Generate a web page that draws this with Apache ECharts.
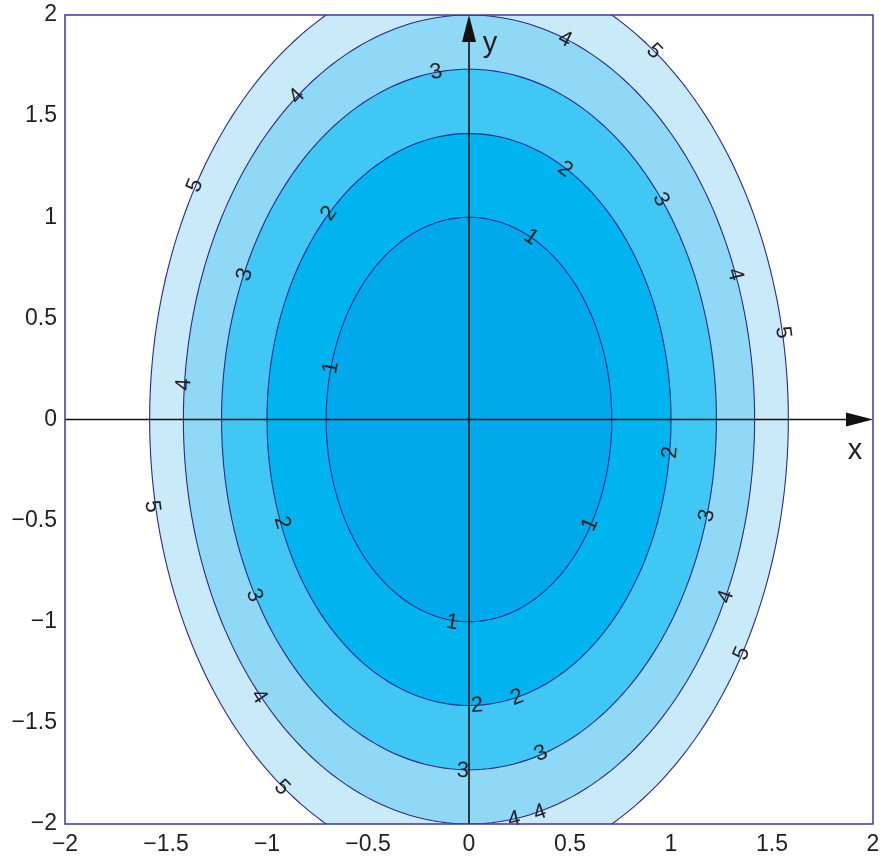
<!DOCTYPE html>
<html>
<head>
<meta charset="utf-8">
<script src="https://cdn.jsdelivr.net/npm/echarts@6/dist/echarts.min.js"></script>
<style>html,body{margin:0;padding:0;background:#fff}#c{width:888px;height:859px}</style>
</head>
<body>
<div id="c"></div>
<script>
// contour levels of f(x,y) and the semi-axes of each level ellipse
const levels = [1, 2, 3, 4, 5];
const semiX = [0.707, 1.0, 1.225, 1.414, 1.581];
const semiY = [1.0, 1.414, 1.732, 2.0, 2.236];
// contour label placements (data coordinates)
const labelLevel = [1,1,1,1, 2,2,2,2,2,2, 3,3,3,3,3,3,3, 4,4,4,4,4,4,4,4, 5,5,5,5,5,5];
const labelX = [0.307,-0.683,0.599,-0.084,
  0.475,-0.693,0.996,-0.926,0.040,0.238,
  -0.163,0.950,-1.109,1.178,-1.064,0.356,-0.030,
  -0.851,0.475,1.317,-1.411,1.272,-1.040,0.223,0.351,
  -1.356,0.916,1.554,-1.569,1.351,-0.926];
const labelY = [0.901,0.257,-0.519,-1.004,
  1.236,1.019,-0.163,-0.509,-1.414,-1.375,
  1.717,1.088,0.717,-0.475,-0.870,-1.652,-1.737,
  1.598,1.879,0.717,0.173,-0.876,-1.370,-1.978,-1.944,
  1.157,1.820,0.430,-0.430,-1.157,-1.820];
// axis ticks
const xTicks = [-2, -1.5, -1, -0.5, 0, 0.5, 1, 1.5, 2];
const yTicks = [-2, -1.5, -1, -0.5, 0, 0.5, 1, 1.5, 2];

const fills = ['#00a8ec', '#00b5ef', '#40c7f3', '#8fd8f6', '#c9eaf9'];
const lineCol = '#2a2a8c';
const FONT = '"Liberation Sans", Arial, sans-serif';

function fmt(v){ return String(v).replace('-', '\u2212'); }

const chart = echarts.init(document.getElementById('c'));

function clipRect(params){
  const cs = params.coordSys;
  return {type:'rect', shape:{x:cs.x, y:cs.y, width:cs.width, height:cs.height}};
}

const fillData = levels.map((l,i)=>({value:[0,0,i]})).reverse();

const option = {
  animation: false,
  grid: {left: 65, right: 15, top: 15, bottom: 35},
  xAxis: {
    type: 'value', min: xTicks[0], max: xTicks[xTicks.length-1], interval: 0.5,
    axisLine: {show: false}, axisTick: {show: false}, splitLine: {show: false},
    axisLabel: {formatter: fmt, fontSize: 23, fontFamily: FONT, color: '#231f20', margin: 9}
  },
  yAxis: {
    type: 'value', min: yTicks[0], max: yTicks[yTicks.length-1], interval: 0.5,
    axisLine: {show: false}, axisTick: {show: false}, splitLine: {show: false},
    axisLabel: {formatter: fmt, fontSize: 23, fontFamily: FONT, color: '#231f20', margin: 8}
  },
  series: [
    {
      type: 'custom', z: 1,
      encode: {x: 0, y: 1},
      data: fillData,
      renderItem: function(params, api){
        const i = api.value(2);
        const pts = [];
        const N = 240;
        for (let k = 0; k < N; k++){
          const t = 2*Math.PI*k/N;
          pts.push(api.coord([semiX[i]*Math.cos(t), semiY[i]*Math.sin(t)]));
        }
        return {
          type: 'polygon', shape: {points: pts},
          style: {fill: fills[i], stroke: lineCol, lineWidth: 1.1},
          clipPath: clipRect(params)
        };
      }
    },
    {
      type: 'custom', z: 5,
      encode: {x: 0, y: 1},
      data: [[0,0]],
      renderItem: function(params, api){
        const L = api.coord([xTicks[0], 0]);
        const R = api.coord([xTicks[xTicks.length-1], 0]);
        const B = api.coord([0, yTicks[0]]);
        const T = api.coord([0, yTicks[yTicks.length-1]]);
        const al = 27, aw = 7;
        return {type: 'group', children: [
          {type:'line', shape:{x1:L[0], y1:L[1], x2:R[0]-al+2, y2:R[1]}, style:{stroke:'#111', lineWidth:1.6}},
          {type:'polygon', shape:{points:[[R[0],R[1]],[R[0]-al,R[1]-aw],[R[0]-al,R[1]+aw]]}, style:{fill:'#111'}},
          {type:'line', shape:{x1:B[0], y1:B[1], x2:T[0], y2:T[1]+al-2}, style:{stroke:'#111', lineWidth:1.6}},
          {type:'polygon', shape:{points:[[T[0],T[1]],[T[0]-aw,T[1]+al],[T[0]+aw,T[1]+al]]}, style:{fill:'#111'}},
          {type:'text', x: R[0]-18, y: R[1]+31, style:{text:'x', fontSize:29, fontFamily:FONT, fill:'#231f20', align:'center', verticalAlign:'middle'}},
          {type:'text', x: T[0]+21, y: T[1]+29, style:{text:'y', fontSize:29, fontFamily:FONT, fill:'#231f20', align:'center', verticalAlign:'middle'}}
        ]};
      }
    },
    {
      type: 'custom', z: 6,
      encode: {x: 0, y: 1},
      data: labelLevel.map((l,k)=>[labelX[k], labelY[k], l]),
      renderItem: function(params, api){
        const x = api.value(0), y = api.value(1), l = api.value(2);
        const i = levels.indexOf(l);
        const a = semiX[i], b = semiY[i];
        let ang = Math.atan2(x/(a*a), -y/(b*b));
        if (ang > Math.PI/2) ang -= Math.PI;
        if (ang < -Math.PI/2) ang += Math.PI;
        const p = api.coord([x, y]);
        return {type:'text', x: p[0], y: p[1], rotation: ang,
          style:{text: String(l), fontSize: 22, fontFamily: FONT, fill:'#231f20', align:'center', verticalAlign:'middle'}};
      }
    },
    {
      type: 'custom', z: 7,
      encode: {x: 0, y: 1},
      data: [[0,0]],
      renderItem: function(params, api){
        const cs = params.coordSys;
        return {type:'rect', shape:{x:cs.x, y:cs.y, width:cs.width, height:cs.height},
          style:{fill:'none', stroke:'#3a3a9e', lineWidth:1.5}};
      }
    }
  ]
};
chart.setOption(option);
</script>
</body>
</html>
